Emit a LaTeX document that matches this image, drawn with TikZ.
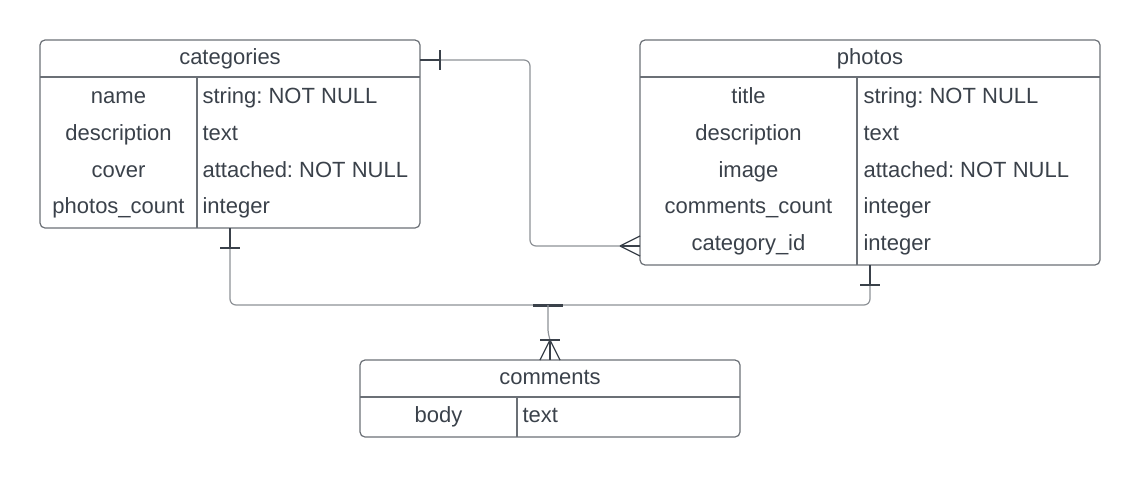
\documentclass[tikz,border=0pt]{standalone}
\usepackage{fontspec}
\setmainfont{Liberation Sans}
\usetikzlibrary{positioning}
\definecolor{inkgray}{HTML}{3A414A}
\definecolor{boxgray}{HTML}{6B7076}
\definecolor{linkgray}{HTML}{8E9297}
\newcommand{\fieldfont}{\fontsize{22}{26}\selectfont}
\frenchspacing
\tikzset{
  tablebox/.style={draw=boxgray, rounded corners=5pt, inner sep=0pt, outer sep=0pt},
  fieldname/.style={anchor=base},
  fieldtype/.style={anchor=base west},
  link/.style={draw=linkgray, rounded corners=6pt},
  linkend/.style={draw=inkgray},
}
\begin{document}
\begin{tikzpicture}[x=1pt, y=-1pt, line width=1.2pt,
    every node/.style={font=\fieldfont, text=inkgray, inner sep=0pt}]
  \useasboundingbox (0,0) rectangle (1140,477);

  % === categories ===
  \node[tablebox, minimum width=380pt, minimum height=188pt] (cat) at (230,134) {};
  \node[fieldname] (cattitle) at (230,64.5) {categories};
  \draw[boxgray] (cat.west |- 0,77) -- (cat.east |- 0,77);
  \draw[boxgray] (197,77) -- (197,228);
  \foreach \fname/\ftype [count=\i] in {name/string: NOT NULL, description/text,
      cover/attached: NOT NULL, photos\_count/integer}{
    \node[fieldname] at (118.5,{103.5+36.75*(\i-1)}) {\fname};
    \node[fieldtype] at (202,{103.5+36.75*(\i-1)}) {\ftype};
  }

  % === photos ===
  \node[tablebox, minimum width=460pt, minimum height=225pt] (photos) at (870,152.5) {};
  \node[fieldname] (phototitle) at (870,64.5) {photos};
  \draw[boxgray] (photos.west |- 0,77) -- (photos.east |- 0,77);
  \draw[boxgray] (857,77) -- (857,265);
  \foreach \fname/\ftype [count=\i] in {title/string: NOT NULL, description/text,
      image/attached: NOT NULL, comments\_count/integer, category\_id/integer}{
    \node[fieldname] at (748.5,{103.5+36.75*(\i-1)}) {\fname};
    \node[fieldtype] at (863,{103.5+36.75*(\i-1)}) {\ftype};
  }

  % === comments ===
  \node[tablebox, minimum width=380pt, minimum height=77pt] (comments) at (550,398.5) {};
  \node[fieldname] (commenttitle) at (550,384.5) {comments};
  \draw[boxgray] (comments.west |- 0,397) -- (comments.east |- 0,397);
  \draw[boxgray] (517,397) -- (517,437);
  \node[fieldname] at (438.5,422.5) {body};
  \node[fieldtype] at (522,422.5) {text};

  % === relations ===
  \coordinate (catR) at (cat.east |- 0,60);
  \coordinate (photoL) at (photos.west |- 0,246);
  \coordinate (hub) at (548,305);
  \coordinate (crow) at (550,340);

  % categories 1 -- n photos
  \draw[link] (catR) -- (530,60) -- (530,246) -- (photoL);
  \draw[linkend] (catR) -- (440,60);
  \draw[linkend] (440,50) -- (440,70);
  \draw[linkend] (620,246) -- (photoL);
  \draw[linkend] (620,246) -- (640,236) (620,246) -- (640,256);

  % categories / photos 1 -- n comments
  \draw[link] (cat.south) -- (230,305) -- (870,305) -- (photos.south);
  \draw[linkend] (cat.south) -- (230,248);
  \draw[linkend] (220,248) -- (240,248);
  \draw[linkend] (photos.south) -- (870,285);
  \draw[linkend] (860,285) -- (880,285);
  \draw[linkend, line width=3pt] (533,305) -- (563,305);
  \draw[link, rounded corners=2pt] (hub) -- (548,332) -- (crow);
  \draw[linkend] (540,340) -- (560,340);
  \draw[linkend] (crow) -- (comments.north);
  \draw[linkend] (crow) -- (540,360) (crow) -- (560,360);
\end{tikzpicture}
\end{document}
